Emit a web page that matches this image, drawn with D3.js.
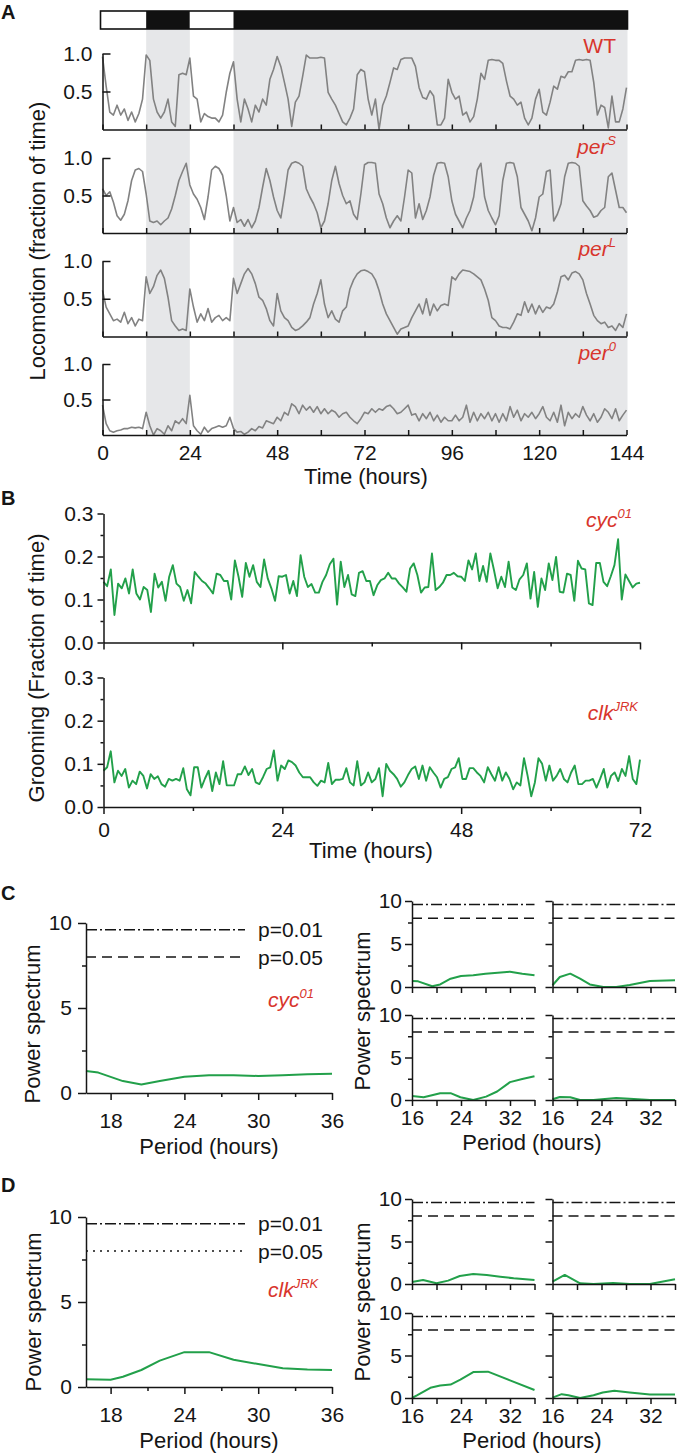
<!DOCTYPE html>
<html><head><meta charset="utf-8">
<script src="https://cdn.jsdelivr.net/npm/d3@7"></script>
<style>body{margin:0;background:#fff}svg{display:block}</style>
</head><body><svg id="chart" width="678" height="1456"></svg>
<script>
// ---------------- DATA ----------------
// Panel A: light/dark schedule (hours)
const ldStart = [0, 12, 24, 36];
const ldEnd   = [12, 24, 36, 144];
const ldState = ["L", "D", "L", "D"];
const timeTicksA = [0,12,24,36,48,60,72,84,96,108,120,132,144];
const timeLabelsA = [0,24,48,72,96,120,144];
const locoTicks = [0.5, 1.0];
const genotypesA = ["WT", "perS", "perL", "per0"];
const genoBaseA = ["WT", "per", "per", "per"];
const genoSupA = ["", "S", "L", "0"];
// hourly locomotion (fraction of time), 0..144 h
const locoWT = [0.96,0.57,0.23,0.19,0.32,0.19,0.27,0.12,0.23,0.10,0.21,0.40,
0.98,0.91,0.40,0.23,0.15,0.23,0.40,0.10,0.04,0.72,0.74,0.72,
0.94,0.44,0.40,0.10,0.21,0.17,0.15,0.15,0.10,0.19,0.49,0.74,
0.89,0.40,0.10,0.40,0.27,0.10,0.32,0.23,0.40,0.32,0.66,0.79,
0.96,0.83,0.62,0.40,0.04,0.36,0.44,0.70,0.98,0.94,0.94,0.94,
0.95,0.94,0.49,0.40,0.32,0.21,0.10,0.06,0.15,0.27,0.72,0.79,
0.76,0.40,0.19,0.40,0.00,0.32,0.44,0.62,0.81,0.79,0.92,0.94,
0.94,0.94,0.83,0.55,0.42,0.40,0.51,0.44,0.06,0.06,0.15,0.66,
0.49,0.40,0.44,0.19,0.23,0.10,0.17,0.40,0.74,0.66,0.91,0.92,
0.91,0.91,0.87,0.64,0.44,0.40,0.32,0.36,0.15,0.06,0.15,0.40,
0.53,0.23,0.19,0.36,0.57,0.53,0.70,0.68,0.76,0.76,0.91,0.92,
0.91,0.92,0.91,0.62,0.19,0.32,0.29,0.02,0.44,0.10,0.10,0.27,0.55];
const locoPerS = [0.59,0.50,0.55,0.41,0.23,0.17,0.25,0.43,0.70,0.84,0.86,0.82,
0.52,0.16,0.14,0.16,0.11,0.16,0.20,0.32,0.50,0.70,0.82,0.93,
0.64,0.52,0.45,0.34,0.18,0.48,0.84,0.89,0.86,0.77,0.50,0.16,
0.34,0.14,0.18,0.09,0.18,0.07,0.16,0.34,0.61,0.86,0.70,0.48,
0.30,0.20,0.50,0.84,0.93,0.95,0.93,0.89,0.59,0.48,0.39,0.27,
0.07,0.16,0.39,0.70,0.89,0.66,0.50,0.39,0.43,0.25,0.18,0.52,
0.91,0.94,0.94,0.93,0.52,0.39,0.20,0.07,0.16,0.23,0.16,0.48,
0.84,0.80,0.20,0.39,0.18,0.30,0.48,0.77,0.93,0.94,0.93,0.75,
0.43,0.25,0.16,0.07,0.20,0.30,0.48,0.84,0.93,0.48,0.30,0.20,
0.11,0.23,0.70,0.93,0.94,0.93,0.75,0.34,0.25,0.16,0.03,0.20,
0.48,0.52,0.82,0.84,0.16,0.25,0.39,0.75,0.93,0.94,0.93,0.89,
0.43,0.36,0.30,0.21,0.23,0.30,0.34,0.75,0.80,0.57,0.34,0.34,0.27];
const locoPerL = [0.61,0.39,0.30,0.21,0.23,0.19,0.32,0.17,0.25,0.14,0.23,0.21,
0.79,0.57,0.66,0.81,0.88,0.77,0.52,0.21,0.14,0.08,0.10,0.08,
0.63,0.39,0.19,0.30,0.21,0.37,0.19,0.25,0.28,0.21,0.25,0.21,
0.77,0.57,0.70,0.83,0.90,0.83,0.70,0.52,0.48,0.37,0.21,0.14,
0.57,0.34,0.25,0.21,0.12,0.08,0.10,0.14,0.19,0.25,0.43,0.57,
0.75,0.43,0.25,0.34,0.23,0.19,0.34,0.39,0.63,0.75,0.83,0.87,
0.88,0.86,0.83,0.75,0.61,0.43,0.30,0.21,0.12,0.03,0.10,0.12,
0.14,0.25,0.34,0.43,0.30,0.50,0.28,0.43,0.34,0.41,0.43,0.41,
0.79,0.75,0.83,0.88,0.87,0.86,0.83,0.79,0.75,0.63,0.48,0.25,
0.21,0.14,0.12,0.12,0.10,0.19,0.30,0.28,0.46,0.32,0.43,0.30,
0.41,0.32,0.39,0.37,0.43,0.59,0.79,0.81,0.75,0.84,0.86,0.83,
0.75,0.57,0.43,0.28,0.21,0.17,0.19,0.12,0.14,0.08,0.17,0.12,0.30];
const locoPer0 = [0.42,0.16,0.06,0.04,0.06,0.07,0.09,0.09,0.11,0.10,0.11,0.09,
0.32,0.13,0.00,0.09,0.06,0.01,0.13,0.06,0.20,0.16,0.23,0.16,
0.56,0.13,0.06,0.01,0.11,0.04,0.09,0.11,0.13,0.11,0.13,0.25,
0.09,0.04,0.05,0.01,0.04,0.09,0.06,0.12,0.10,0.20,0.18,0.16,
0.25,0.20,0.32,0.28,0.44,0.40,0.30,0.42,0.35,0.40,0.32,0.40,
0.30,0.37,0.30,0.35,0.32,0.25,0.30,0.32,0.25,0.20,0.16,0.23,
0.32,0.30,0.37,0.32,0.37,0.35,0.40,0.42,0.37,0.30,0.32,0.37,
0.42,0.28,0.30,0.20,0.30,0.23,0.32,0.20,0.28,0.18,0.25,0.20,
0.20,0.28,0.20,0.25,0.42,0.18,0.32,0.20,0.30,0.23,0.32,0.20,
0.30,0.18,0.30,0.20,0.40,0.25,0.35,0.20,0.30,0.25,0.32,0.23,
0.30,0.40,0.25,0.20,0.32,0.18,0.42,0.13,0.32,0.23,0.30,0.25,
0.40,0.28,0.20,0.30,0.18,0.25,0.37,0.32,0.23,0.37,0.20,0.28,0.35];
const locoSeries = [locoWT, locoPerS, locoPerL, locoPer0];

// Panel B: grooming (fraction of time), 30-min bins over 0..72 h
const groomTicksMajor = [0, 24, 48, 72];
const groomTicksMinor = [12, 36, 60];
const groomYTicks = [0.0, 0.1, 0.2, 0.3];
const groomYMinor = [0.05, 0.15, 0.25];
const groomCyc = [0.141,0.131,0.17,0.064,0.137,0.126,0.149,0.114,0.17,0.114,0.1,0.129,0.122,0.071,0.16,0.128,0.141,0.097,0.153,0.18,0.137,0.129,0.097,0.122,0.091,0.164,0.153,0.143,0.137,0.126,0.114,0.16,0.157,0.143,0.143,0.1,0.191,0.153,0.106,0.185,0.153,0.18,0.141,0.129,0.193,0.149,0.126,0.097,0.154,0.153,0.157,0.114,0.143,0.108,0.203,0.153,0.129,0.136,0.116,0.116,0.141,0.157,0.182,0.195,0.088,0.188,0.129,0.157,0.112,0.108,0.162,0.166,0.143,0.143,0.11,0.133,0.145,0.149,0.162,0.149,0.149,0.137,0.128,0.118,0.172,0.184,0.157,0.116,0.128,0.129,0.207,0.122,0.129,0.139,0.157,0.157,0.162,0.154,0.153,0.143,0.191,0.17,0.207,0.143,0.178,0.141,0.207,0.168,0.126,0.153,0.129,0.188,0.128,0.122,0.147,0.157,0.184,0.102,0.164,0.083,0.149,0.122,0.184,0.145,0.199,0.118,0.116,0.16,0.157,0.097,0.19,0.172,0.17,0.091,0.087,0.185,0.185,0.141,0.131,0.154,0.18,0.24,0.1,0.158,0.143,0.128,0.137,0.139];
const groomClk = [0.084,0.092,0.129,0.057,0.084,0.072,0.088,0.045,0.061,0.053,0.082,0.072,0.043,0.076,0.065,0.071,0.053,0.047,0.065,0.061,0.065,0.061,0.09,0.041,0.027,0.092,0.092,0.045,0.066,0.084,0.037,0.08,0.053,0.106,0.05,0.05,0.05,0.076,0.076,0.094,0.074,0.088,0.057,0.053,0.069,0.088,0.092,0.131,0.061,0.096,0.088,0.108,0.104,0.096,0.08,0.069,0.069,0.069,0.057,0.049,0.061,0.057,0.102,0.053,0.063,0.063,0.065,0.09,0.057,0.05,0.106,0.05,0.057,0.08,0.057,0.065,0.09,0.025,0.1,0.084,0.076,0.065,0.047,0.057,0.074,0.088,0.094,0.065,0.096,0.061,0.092,0.08,0.069,0.045,0.065,0.069,0.088,0.092,0.113,0.065,0.065,0.09,0.09,0.08,0.072,0.057,0.092,0.076,0.061,0.092,0.061,0.08,0.065,0.041,0.057,0.05,0.113,0.072,0.025,0.057,0.113,0.1,0.061,0.096,0.061,0.072,0.088,0.065,0.057,0.08,0.096,0.053,0.053,0.061,0.061,0.065,0.045,0.065,0.088,0.045,0.072,0.08,0.06,0.088,0.072,0.118,0.065,0.053,0.11];

// Panels C/D: power spectra
const pThresh01 = 9.6;
const pThresh05 = 8.0;
const bigPeriodTicks = [18, 24, 30, 36];
const bigPeriodMinor = [21, 27, 33];
const smallPeriodTicks = [16, 20, 24, 28, 32, 36];
const smallPeriodLabels = [16, 24, 32];
const powerTicks = [0, 5, 10];
const powerMinor = [2.5, 7.5];

const cycBigPeriod = [16,17,19,20.5,22,24,26,28,30,32,34,36];
const cycBigPower  = [1.3,1.2,0.7,0.5,0.7,0.95,1.05,1.05,1.0,1.05,1.1,1.13];
const clkBigPeriod = [16,18,19,20.5,22,24,26,28,30,32,34,36];
const clkBigPower  = [0.45,0.43,0.6,1.0,1.55,2.05,2.05,1.6,1.35,1.1,1.03,1.0];

const cycS1Period = [16,17,19.3,20.6,22.3,24,26,28,30,32,34,36];
const cycS1Power  = [0.7,0.66,0.08,0.3,0.97,1.28,1.36,1.55,1.67,1.78,1.55,1.36];
const cycS2Period = [16,17.2,18.9,20.5,22.1,24.3,26.4,28.6,31.9,36];
const cycS2Power  = [0.2,1.16,1.55,0.97,0.3,0,0,0.23,0.7,0.78];
const cycS3Period = [16,17.9,20.6,22.3,23.9,26,28.1,29.9,32,34,36];
const cycS3Power  = [0.48,0.32,0.8,0.8,0.32,0,0.4,1.0,2.1,2.48,2.8];
const cycS4Period = [16,17.2,18.9,20.5,22.7,26.4,28.6,31.9,36];
const cycS4Power  = [0.08,0.36,0.32,0,0,0.24,0.16,0,0];

const clkS1Period = [16,17.8,20,21.9,23.8,26,28.2,30.4,32.6,36];
const clkS1Power  = [0.24,0.47,0.08,0.4,0.94,1.18,1.06,0.86,0.67,0.47];
const clkS2Period = [16,18,20.5,22.7,25.9,28.6,31.9,36];
const clkS2Power  = [0.27,1.06,0.08,0,0.12,0,0,0.55];
const clkS3Period = [16,16.8,19,20.6,22.3,23.9,26,28.4,32,36];
const clkS3Power  = [0,0.3,1.2,1.46,1.58,2.15,3.05,3.1,2.07,0.94];
const clkS4Period = [16,17.5,18.6,20.5,22.7,24.2,26.1,28.6,31.9,36];
const clkS4Power  = [0.04,0.45,0.33,0,0.33,0.65,0.85,0.65,0.41,0.41];

// ---------------- STYLE ----------------
const FONT = "'Liberation Sans', Arial, Helvetica, sans-serif";
const RED = "#d8352c", GREEN = "#22a04a", GRAY = "#828282", SHADE = "#e6e7e9", INK = "#151515";
const TICKFS = 21, TITLEFS = 22;

const svg = d3.select("#chart");
svg.append("rect").attr("width", 678).attr("height", 1456).attr("fill", "#fff");

function styleAxis(g, fs) {
  g.attr("font-family", FONT).attr("font-size", fs || TICKFS);
  g.select(".domain").attr("stroke", INK).attr("stroke-width", 1.5);
  g.selectAll(".tick line").attr("stroke", INK).attr("stroke-width", 1.5);
  g.selectAll(".tick text").attr("fill", INK);
  return g;
}
function panelLetter(t, x, y) {
  svg.append("text").attr("x", x).attr("y", y).text(t)
    .attr("font-family", FONT).attr("font-weight", "bold").attr("font-size", 20).attr("fill", INK);
}
function title(t, x, y, rotate) {
  const el = svg.append("text").text(t).attr("font-family", FONT).attr("font-size", TITLEFS)
    .attr("fill", INK).attr("text-anchor", "middle");
  if (rotate) el.attr("transform", `translate(${x},${y}) rotate(-90)`);
  else el.attr("x", x).attr("y", y);
}
function genoLabel(x, y, base, sup, italic, anchor) {
  const t = svg.append("text").attr("x", x).attr("y", y).attr("text-anchor", anchor || "end")
    .attr("fill", RED).attr("font-family", FONT).attr("font-size", 21);
  t.append("tspan").text(base).attr("font-style", italic ? "italic" : "normal");
  if (sup) t.append("tspan").text(sup).attr("font-size", 13).attr("dy", -9).attr("font-style", "italic");
}

// ---------------- PANEL A ----------------
panelLetter("A", 1, 19);
const xA = d3.scaleLinear().domain([0, 144]).range([102.5, 626.5]);
const shadeTop = 29, shadeBottom = 435.5;
// shading for dark phases
svg.append("g").selectAll("rect").data(d3.range(ldStart.length).filter(i => ldState[i] === "D"))
  .join("rect")
  .attr("x", i => xA(ldStart[i])).attr("width", i => xA(ldEnd[i]) - xA(ldStart[i]) + (ldEnd[i] === 144 ? 1 : 0))
  .attr("y", shadeTop).attr("height", shadeBottom - shadeTop).attr("fill", SHADE);
// LD bar
const barLeft = xA(0) - 2, barRight = xA(144) + 1;
const barG = svg.append("g");
barG.selectAll("rect").data(d3.range(ldStart.length)).join("rect")
  .attr("x", i => i === 0 ? barLeft : xA(ldStart[i]))
  .attr("width", i => (ldEnd[i] === 144 ? barRight : xA(ldEnd[i])) - (i === 0 ? barLeft : xA(ldStart[i])))
  .attr("y", 11).attr("height", 18)
  .attr("fill", i => ldState[i] === "L" ? "#fff" : "#111");
barG.append("rect").attr("x", barLeft).attr("y", 11).attr("width", barRight - barLeft).attr("height", 18)
  .attr("fill", "none").attr("stroke", "#111").attr("stroke-width", 1.6);

const yTopsA = [53.5, 158, 261, 364];
const yBotsA = [129.5, 233, 336.5, 435];
const labelYA = [53, 154, 256, 360];
const lineA = d3.line().curve(d3.curveLinear);
locoSeries.forEach((series, k) => {
  const y = d3.scaleLinear().domain([0, 1]).range([yBotsA[k], yTopsA[k]]);
  const n = series.length;
  svg.append("path").attr("fill", "none").attr("stroke", GRAY).attr("stroke-width", 1.6)
    .attr("stroke-linejoin", "round")
    .attr("d", lineA(series.map((v, i) => [xA(i * 144 / (n - 1)), y(v)])));
  const last = k === locoSeries.length - 1;
  const gx = svg.append("g").attr("transform", `translate(0,${yBotsA[k]})`)
    .call(d3.axisBottom(xA).tickValues(timeTicksA)
      .tickFormat(d => (last && timeLabelsA.includes(d)) ? d : "")
      .tickSizeInner(-5).tickSizeOuter(0).tickPadding(10));
  styleAxis(gx);
  const gy = svg.append("g").attr("transform", `translate(${xA(0)},0)`)
    .call(d3.axisLeft(y).tickValues(locoTicks).tickFormat(d3.format(".1f"))
      .tickSizeInner(-8).tickSizeOuter(0).tickPadding(10));
  styleAxis(gy);
  genoLabel(616, labelYA[k], genoBaseA[k], genoSupA[k], k > 0);
});
title("Locomotion (fraction of time)", 45, 241, true);
title("Time (hours)", 366, 484);

// ---------------- PANEL B ----------------
panelLetter("B", 1, 505);
const xB = d3.scaleLinear().domain([0, 72]).range([103.5, 640]);
const groomSeries = [groomCyc, groomClk];
const yTopsB = [513.5, 677.5];
const yBotsB = [642.5, 807];
const groomNames = [["cyc", "01"], ["clk", "JRK"]];
const groomLabelPos = [[632, 527], [638, 720]];
groomSeries.forEach((series, k) => {
  const y = d3.scaleLinear().domain([0, 0.3]).range([yBotsB[k], yTopsB[k]]);
  const n = series.length;
  svg.append("path").attr("fill", "none").attr("stroke", GREEN).attr("stroke-width", 1.9)
    .attr("stroke-linejoin", "round")
    .attr("d", lineA(series.map((v, i) => [xB(i * 72 / (n - 1)), y(v)])));
  const last = k === 1;
  styleAxis(svg.append("g").attr("transform", `translate(0,${yBotsB[k]})`)
    .call(d3.axisBottom(xB).tickValues(groomTicksMajor).tickFormat(d => last ? d : "")
      .tickSizeInner(7).tickSizeOuter(0).tickPadding(8)));
  styleAxis(svg.append("g").attr("transform", `translate(0,${yBotsB[k]})`)
    .call(d3.axisBottom(xB).tickValues(groomTicksMinor).tickFormat("")
      .tickSizeInner(4).tickSizeOuter(0))).select(".domain").remove();
  styleAxis(svg.append("g").attr("transform", `translate(${xB(0)},0)`)
    .call(d3.axisLeft(y).tickValues(groomYTicks).tickFormat(d3.format(".1f"))
      .tickSizeInner(6).tickSizeOuter(0).tickPadding(4)));
  styleAxis(svg.append("g").attr("transform", `translate(${xB(0)},0)`)
    .call(d3.axisLeft(y).tickValues(groomYMinor).tickFormat("")
      .tickSizeInner(3).tickSizeOuter(0))).select(".domain").remove();
  genoLabel(groomLabelPos[k][0], groomLabelPos[k][1], groomNames[k][0], groomNames[k][1], true);
});
title("Grooming (Fraction of time)", 44, 668, true);
title("Time (hours)", 371, 858);

// ---------------- PANELS C / D ----------------
function spectrum(opts) {
  const x = d3.scaleLinear().domain([16, 36]).range([opts.x0, opts.x1]);
  const y = d3.scaleLinear().domain([0, 10]).range([opts.y0, opts.y1]);
  const g = svg.append("g");
  const lx1 = opts.big ? opts.lineEnd : opts.x1;
  g.append("line").attr("x1", opts.x0).attr("x2", lx1).attr("y1", y(pThresh01)).attr("y2", y(pThresh01))
    .attr("stroke", INK).attr("stroke-width", 1.5).attr("stroke-dasharray", "11,3,2,3");
  g.append("line").attr("x1", opts.x0).attr("x2", lx1).attr("y1", y(pThresh05)).attr("y2", y(pThresh05))
    .attr("stroke", INK).attr("stroke-width", 1.5).attr("stroke-dasharray", opts.dotted ? "2,5" : "10,6");
  if (opts.big) {
    [[pThresh01, "p=0.01"], [pThresh05, "p=0.05"]].forEach(([v, t]) => {
      g.append("text").attr("x", opts.x0 + 172).attr("y", y(v) + 7.5).text(t)
        .attr("font-family", FONT).attr("font-size", 21).attr("fill", INK);
    });
  }
  g.append("path").attr("fill", "none").attr("stroke", GREEN).attr("stroke-width", 2)
    .attr("stroke-linejoin", "round")
    .attr("d", d3.line()(opts.period.map((p, i) => [x(p), y(opts.power[i])])));
  const majX = opts.big ? bigPeriodTicks : smallPeriodTicks;
  const labX = opts.big ? bigPeriodTicks : smallPeriodLabels;
  styleAxis(g.append("g").attr("transform", `translate(0,${opts.y0})`)
    .call(d3.axisBottom(x).tickValues(majX).tickFormat(d => opts.xLabels && labX.includes(d) ? d : "")
      .tickSizeInner(opts.big ? 7 : 6).tickSizeOuter(0).tickPadding(opts.big ? 13 : 4)));
  if (opts.big) {
    styleAxis(g.append("g").attr("transform", `translate(0,${opts.y0})`)
      .call(d3.axisBottom(x).tickValues(bigPeriodMinor).tickFormat("").tickSizeInner(4).tickSizeOuter(0)))
      .select(".domain").remove();
  }
  styleAxis(g.append("g").attr("transform", `translate(${opts.x0},0)`)
    .call(d3.axisLeft(y).tickValues(powerTicks).tickFormat(d => opts.yLabels ? d : "")
      .tickSizeInner(opts.big ? 8 : 7).tickSizeOuter(0).tickPadding(opts.big ? 6 : 3)));
  styleAxis(g.append("g").attr("transform", `translate(${opts.x0},0)`)
    .call(d3.axisLeft(y).tickValues(powerMinor).tickFormat("").tickSizeInner(4).tickSizeOuter(0)))
    .select(".domain").remove();
}

// Panel C
panelLetter("C", 1, 900);
spectrum({x0: 86, x1: 332, y0: 1093, y1: 923, big: true, lineEnd: 245, period: cycBigPeriod, power: cycBigPower, xLabels: true, yLabels: true});
genoLabel(268, 1007, "cyc", "01", true, "start");
title("Power spectrum", 40, 1024, true);
title("Period (hours)", 209, 1154);
spectrum({x0: 412, x1: 534.5, y0: 987, y1: 901, period: cycS1Period, power: cycS1Power, xLabels: false, yLabels: true});
spectrum({x0: 552.5, x1: 675, y0: 987, y1: 901, period: cycS2Period, power: cycS2Power, xLabels: false, yLabels: false});
spectrum({x0: 412, x1: 534.5, y0: 1100, y1: 1015, period: cycS3Period, power: cycS3Power, xLabels: true, yLabels: true});
spectrum({x0: 552.5, x1: 675, y0: 1100, y1: 1015, period: cycS4Period, power: cycS4Power, xLabels: true, yLabels: false});
title("Power spectrum", 370, 1011, true);
title("Period (hours)", 532, 1150);

// Panel D
panelLetter("D", 1, 1192);
spectrum({x0: 86, x1: 332, y0: 1387, y1: 1217, big: true, lineEnd: 245, dotted: true, period: clkBigPeriod, power: clkBigPower, xLabels: true, yLabels: true});
genoLabel(268, 1297, "clk", "JRK", true, "start");
title("Power spectrum", 41, 1312, true);
title("Period (hours)", 209, 1448);
spectrum({x0: 412, x1: 534.5, y0: 1284, y1: 1199, period: clkS1Period, power: clkS1Power, xLabels: false, yLabels: true});
spectrum({x0: 552.5, x1: 675, y0: 1284, y1: 1199, period: clkS2Period, power: clkS2Power, xLabels: false, yLabels: false});
spectrum({x0: 412, x1: 534.5, y0: 1398, y1: 1313, period: clkS3Period, power: clkS3Power, xLabels: true, yLabels: true});
spectrum({x0: 552.5, x1: 675, y0: 1398, y1: 1313, period: clkS4Period, power: clkS4Power, xLabels: true, yLabels: false});
title("Power spectrum", 370, 1302, true);
title("Period (hours)", 532, 1448);
</script>
</body></html>
